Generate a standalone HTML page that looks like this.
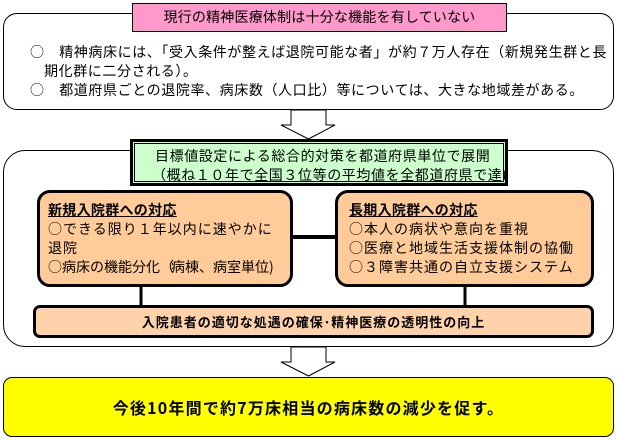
<!DOCTYPE html>
<html><head><meta charset="utf-8"><style>
body{margin:0;width:617px;height:440px;background:#fff;position:relative;overflow:hidden;font-family:"Noto Sans CJK JP","Liberation Sans",sans-serif;color:#000}
div{position:absolute;box-sizing:border-box}
.t{white-space:nowrap;font-size:14px;line-height:19px;letter-spacing:0.6px}
.o{font-size:14px;letter-spacing:1px}
</style></head><body>
<div style="left:3px;top:13px;width:611px;height:97px;border:1px solid #000;border-radius:14px"></div>
<div style="left:132px;top:3px;width:375px;height:29px;background:#FF99CC;border:1px solid #000;text-align:center;font-size:14px;line-height:27px;letter-spacing:0.2px">現行の精神医療体制は十分な機能を有していない</div>
<div class="t" style="left:30px;top:43px">○　精神病床には、「受入条件が整えば退院可能な者」が約７万人存在（新規発生群と長</div>
<div class="t" style="left:44px;top:62px">期化群に二分される）。</div>
<div class="t" style="left:30px;top:81px">○　都道府県ごとの退院率、病床数（人口比）等については、大きな地域差がある。</div>

<svg style="position:absolute;left:0;top:0" width="617" height="440">
<polygon points="291,110 326,110 326,125 335,125 308.5,139 281,125 291,125" fill="#fff" stroke="#000"/>
<polygon points="291,347 326,347 326,362 335,362 308.5,376 281,362 291,362" fill="#fff" stroke="#000"/>
<line x1="292" y1="237" x2="336" y2="237" stroke="#000" stroke-width="4"/>
<line x1="141" y1="287" x2="141" y2="306" stroke="#000" stroke-width="3"/>
<line x1="465" y1="287" x2="465" y2="306" stroke="#000" stroke-width="3"/>
</svg>
<div style="left:3px;top:150px;width:611px;height:197px;border:1px solid #000;border-radius:22px"></div>
<div style="left:130px;top:139px;width:378px;height:47px;background:#CCFFCC;border:3px solid #000;box-shadow:inset 0 0 0 1px #CCFFCC,inset 0 0 0 2px #000;overflow:hidden">
<div class="t" style="left:22px;top:5px">目標値設定による総合的対策を都道府県単位で展開</div>
<div class="t" style="left:19px;top:24px">（概ね１０年で全国３位等の平均値を全都道府県で達成）</div></div>
<div style="left:37px;top:190px;width:256px;height:97px;background:#FFCC99;border:3px solid #000;border-radius:13px"></div>
<div class="t" style="left:48px;top:201px;font-weight:bold;text-decoration:underline;letter-spacing:0.3px">新規入院群への対応</div>
<div class="t o" style="left:48px;top:220px">○できる限り１年以内に速やかに</div>
<div class="t o" style="left:48px;top:239px">退院</div>
<div class="t" style="left:48px;top:258px;letter-spacing:0">○病床の機能分化<span style="letter-spacing:-3px">（</span>病棟、病室単位<span style="letter-spacing:0">)</span></div>
<div style="left:335px;top:190px;width:259px;height:97px;background:#FFCC99;border:3px solid #000;border-radius:13px"></div>
<div class="t" style="left:349px;top:201px;font-weight:bold;text-decoration:underline;letter-spacing:0.3px">長期入院群への対応</div>
<div class="t o" style="left:349px;top:220px">○本人の病状や意向を重視</div>
<div class="t o" style="left:349px;top:239px">○医療と地域生活支援体制の協働</div>
<div class="t o" style="left:349px;top:258px">○３障害共通の自立支援システム</div>
<div style="left:33px;top:305px;width:561px;height:33px;background:#FFD2AA;border:3px solid #000;border-radius:7px;text-align:center;font-size:13px;font-weight:bold;line-height:27px;letter-spacing:1px">入院患者の適切な処遇の確保･精神医療の透明性の向上</div>
<div style="left:3px;top:377px;width:611px;height:60px;background:#FFFF00;border:1px solid #000;border-radius:9px;text-align:center;font-size:16px;font-weight:bold;line-height:58px;letter-spacing:1.2px">今後10年間で約7万床相当の病床数の減少を促す。</div>
</body></html>
